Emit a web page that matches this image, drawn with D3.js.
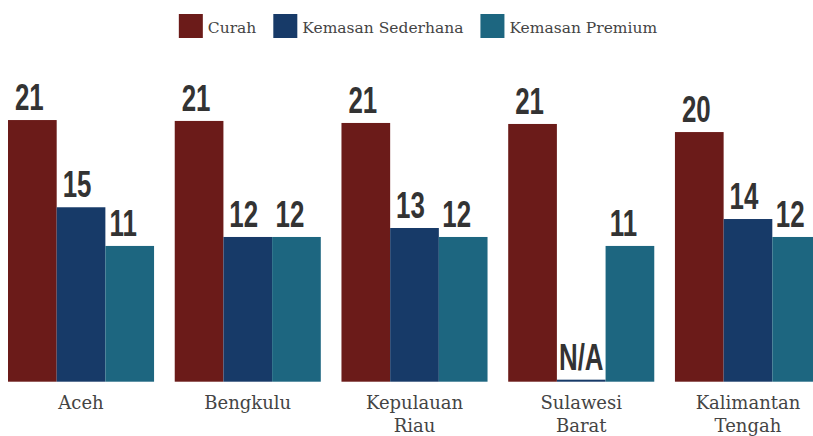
<!DOCTYPE html>
<html lang="id">

<head>
    <meta charset="UTF-8">
    <title>Curah vs Kemasan</title>
    <script src="https://d3js.org/d3.v7.min.js"></script>
    <style>
        body { margin: 0; background: #fff; }
        svg { display: block; }
    </style>
</head>

<body>
    <div id="chart"></div>

    <script>
        // data (labels are rounded values)
        const categories = ["Aceh", "Bengkulu", "Kepulauan Riau", "Sulawesi Barat", "Kalimantan Tengah"];
        const seriesNames = ["Curah", "Kemasan Sederhana", "Kemasan Premium"];
        const curah = [21.4, 21.33, 21.17, 21.09, 20.45];
        const sederhana = [14.5, 12.15, 12.86, null, 13.57];   // null = N/A
        const premium = [11.44, 12.15, 12.15, 11.44, 12.15];
        const naStub = 0.86;   // tiny stub drawn for N/A
        const colors = ["#6b1b19", "#173a68", "#1d6680"];

        const width = 813, height = 436;
        const baseY = 381.7;
        const pxPerUnit = 12.64;
        const yMin = 0.7, yMax = 25;

        const svg = d3.select("#chart").append("svg")
            .attr("width", width)
            .attr("height", height);

        const x0 = d3.scaleBand()
            .domain(categories)
            .range([8, 821])
            .paddingInner(0.124)
            .paddingOuter(0);

        const x1 = d3.scaleBand()
            .domain(seriesNames)
            .range([0, x0.bandwidth()]);

        const y = d3.scaleLinear()
            .domain([yMin, yMax])
            .range([baseY, baseY - (yMax - yMin) * pxPerUnit]);

        const color = d3.scaleOrdinal(seriesNames, colors);

        const valuesBySeries = [curah, sederhana, premium];
        const rows = [];
        categories.forEach((c, i) => {
            seriesNames.forEach((s, j) => {
                rows.push({ cat: c, series: s, idx: j, value: valuesBySeries[j][i] });
            });
        });

        const groups = svg.append("g");

        groups.selectAll(".bar")
            .data(rows)
            .enter().append("rect")
            .attr("class", "bar")
            .attr("x", d => x0(d.cat) + x1(d.series))
            .attr("width", x1.bandwidth())
            .attr("y", d => y(d.value == null ? naStub : d.value))
            .attr("height", d => baseY - y(d.value == null ? naStub : d.value))
            .attr("fill", d => color(d.series));

        // value labels
        const labelShift = [-3, -4, -6.5];
        groups.selectAll(".lbl")
            .data(rows)
            .enter().append("text")
            .attr("class", "lbl")
            .attr("transform", d => {
                const v = d.value == null ? naStub : d.value;
                const cx = x0(d.cat) + x1(d.series) + x1.bandwidth() / 2 + (d.value == null ? 0 : labelShift[d.idx]);
                return "translate(" + cx + "," + (y(v) - 10) + ") scale(0.7,1)";
            })
            .attr("text-anchor", "middle")
            .style("font-family", "'Liberation Sans Narrow', 'Liberation Sans', sans-serif")
            .style("font-weight", "bold")
            .style("font-size", "37px")
            .style("fill", "#333")
            .style("stroke", "#fff")
            .style("stroke-width", "2px")
            .style("paint-order", "stroke")
            .text(d => d.value == null ? "N/A" : Math.round(d.value));

        // category labels, wrapped by word
        const axisG = svg.append("g");
        categories.forEach(c => {
            const t = axisG.append("text")
                .attr("x", x0(c) + x0.bandwidth() / 2)
                .attr("y", 409)
                .attr("text-anchor", "middle")
                .style("font-family", "'DejaVu Serif', serif")
                .style("font-size", "18px")
                .style("fill", "#444");
            const words = c.split(" ");
            if (words.length > 1) {
                words.forEach((w, k) => {
                    t.append("tspan")
                        .attr("x", x0(c) + x0.bandwidth() / 2)
                        .attr("dy", k === 0 ? 0 : 23)
                        .text(w);
                });
            } else {
                t.text(c);
            }
        });

        // legend
        const legend = svg.append("g");
        let lx = 0;
        seriesNames.forEach((s, i) => {
            legend.append("rect")
                .attr("x", lx)
                .attr("y", 14)
                .attr("width", 24)
                .attr("height", 24)
                .attr("fill", colors[i]);
            const txt = legend.append("text")
                .attr("x", lx + 29)
                .attr("y", 32.5)
                .style("font-family", "'DejaVu Serif', serif")
                .style("font-size", "15.5px")
                .style("fill", "#444")
                .text(s);
            lx += 29 + txt.node().getComputedTextLength() + 17;
        });
        const legendW = lx - 17;
        legend.attr("transform", "translate(" + (418 - legendW / 2) + ",0)");
    </script>
</body>

</html>
